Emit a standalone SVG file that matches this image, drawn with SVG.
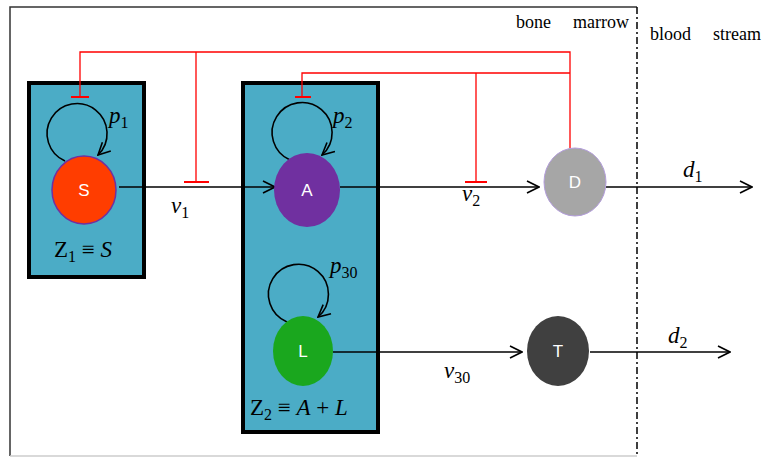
<svg xmlns="http://www.w3.org/2000/svg" width="765" height="457" viewBox="0 0 765 457">
<style>
.box{fill:#4BACC6;stroke:#000;stroke-width:4}
.blk{fill:none;stroke:#000;stroke-width:1.6}
.red{fill:none;stroke:#FF0000;stroke-width:1.3}
.bar{fill:none;stroke:#FF0000;stroke-width:2}
.nl{font-family:"Liberation Sans",Arial,sans-serif;font-size:17px;fill:#fff;text-anchor:middle}
.m{font-family:"Liberation Serif","DejaVu Serif",serif;font-size:23px;font-style:italic;fill:#000}
.sub{font-style:normal;font-size:16px}
.up{font-style:normal}
.lab{font-family:"Liberation Serif","DejaVu Serif",serif;font-size:18px;fill:#000}
</style>
<defs>
<marker id="arr" viewBox="0 0 14 14" refX="13" refY="7" markerWidth="14" markerHeight="14" markerUnits="userSpaceOnUse" orient="auto">
<path d="M1,1 L13,7 L1,13" fill="none" stroke="#000" stroke-width="1.6"/>
</marker>
</defs>
<rect width="765" height="457" fill="#fff"/>
<g id="frame">
<path d="M10,456 L10,7 L637,7" fill="none" stroke="#333" stroke-width="1.5"/>
<line x1="10" y1="456" x2="637" y2="456" stroke="#ccc" stroke-width="1.5"/>
<line x1="637" y1="7" x2="637" y2="457" stroke="#000" stroke-width="1.5" stroke-dasharray="7,3,2,3"/>
<text class="lab" x="516" y="28">bone</text>
<text class="lab" x="573" y="28">marrow</text>
<text class="lab" x="650" y="40">blood</text>
<text class="lab" x="713" y="40">stream</text>
</g>
<g id="Z1">
<rect class="box" x="29" y="83" width="115" height="194"/>
<text class="m" x="54" y="257"><tspan class="up">Z</tspan><tspan class="sub" dy="5">1</tspan><tspan class="up" dy="-5"> ≡ </tspan>S</text>
</g>
<g id="Z2">
<rect class="box" x="243" y="83" width="135" height="349"/>
<text class="m" x="250" y="415"><tspan class="up">Z</tspan><tspan class="sub" dy="5">2</tspan><tspan class="up" dy="-5"> ≡ </tspan>A<tspan class="up"> + </tspan>L</text>
</g>
<g id="connectors">
<path class="red" d="M80,97 V52 H570 V148 M196,52 V182 M302,97 V73 H570 M476,73 V182"/>
<path class="bar" d="M71,97 H89 M184,182 H209 M295,97 H311 M465,182 H487"/>
<path class="blk" d="M65,161 A30,30 0 1 1 98,155" marker-end="url(#arr)"/>
<path class="blk" d="M290,160 A30,30 0 1 1 322,155" marker-end="url(#arr)"/>
<path class="blk" d="M287,322 A30,30 0 1 1 318,317" marker-end="url(#arr)"/>
<line class="blk" x1="119" y1="187" x2="275" y2="187" marker-end="url(#arr)"/>
<line class="blk" x1="340" y1="187" x2="539" y2="187" marker-end="url(#arr)"/>
<line class="blk" x1="606" y1="187" x2="752" y2="187" marker-end="url(#arr)"/>
<line class="blk" x1="333" y1="352" x2="522" y2="352" marker-end="url(#arr)"/>
<line class="blk" x1="590" y1="352" x2="730" y2="352" marker-end="url(#arr)"/>
<text class="m" x="109" y="123">p<tspan class="sub" dy="5">1</tspan></text>
<text class="m" x="333" y="123">p<tspan class="sub" dy="5">2</tspan></text>
<text class="m" x="330" y="273">p<tspan class="sub" dy="5">30</tspan></text>
<text class="m" x="171" y="213">v<tspan class="sub" dy="5">1</tspan></text>
<text class="m" x="462" y="201">v<tspan class="sub" dy="5">2</tspan></text>
<text class="m" x="444" y="378">v<tspan class="sub" dy="5">30</tspan></text>
<text class="m" x="683" y="177">d<tspan class="sub" dy="5">1</tspan></text>
<text class="m" x="668" y="343">d<tspan class="sub" dy="5">2</tspan></text>
</g>
<g id="S">
<ellipse cx="84" cy="190" rx="32" ry="34" fill="#FF3D00" stroke="#7030A0" stroke-width="1.5"/>
<text class="nl" x="84" y="196">S</text>
</g>
<g id="A">
<ellipse cx="307" cy="190" rx="33" ry="37" fill="#7030A0"/>
<text class="nl" x="307" y="196">A</text>
</g>
<g id="L">
<ellipse cx="303" cy="351" rx="30" ry="35" fill="#1AA71E"/>
<text class="nl" x="303" y="357">L</text>
</g>
<g id="D">
<ellipse cx="575" cy="182" rx="31" ry="34" fill="#A6A6A6" stroke="#B39DDB" stroke-width="1"/>
<text class="nl" x="575" y="188">D</text>
</g>
<g id="T">
<ellipse cx="558" cy="351" rx="31" ry="35" fill="#404040"/>
<text class="nl" x="558" y="357">T</text>
</g>
</svg>
